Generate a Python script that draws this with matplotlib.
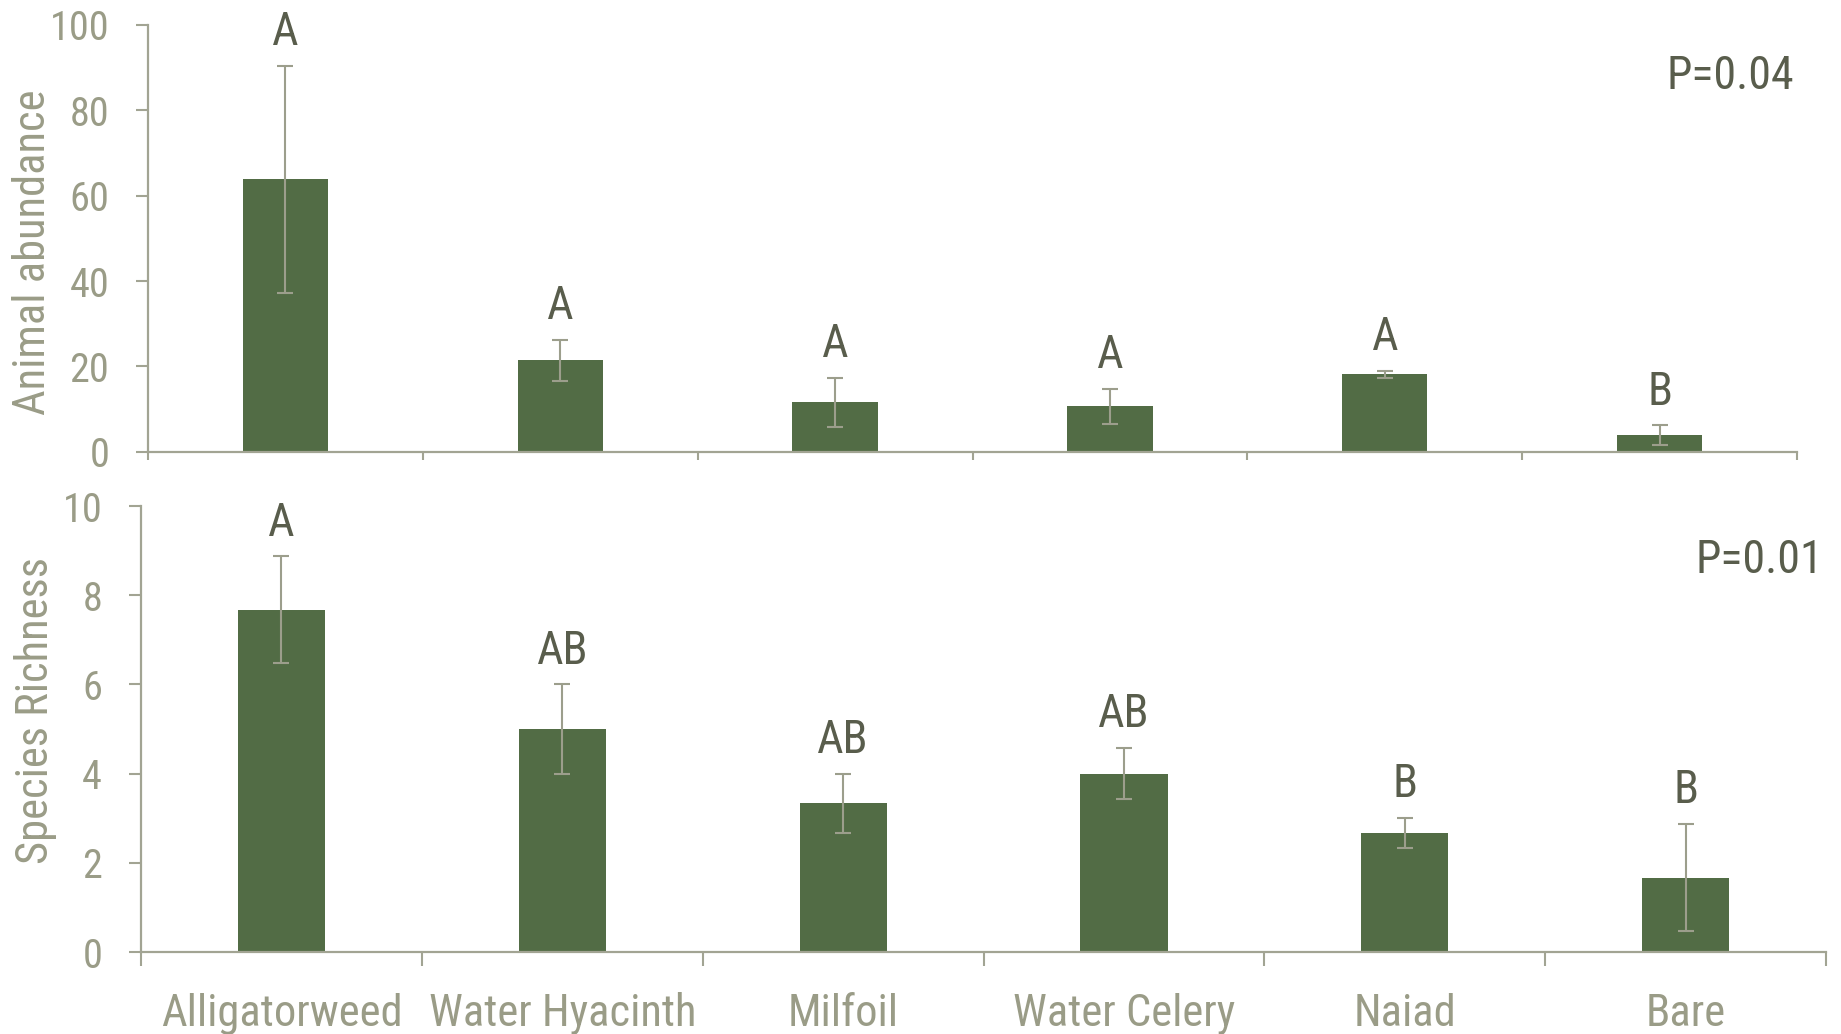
import numpy as np
import matplotlib
matplotlib.use("Agg")
import matplotlib.pyplot as plt
from matplotlib import font_manager
from matplotlib.font_manager import FontProperties

# --- data ---
habitats = ["Alligatorweed", "Water Hyacinth", "Milfoil", "Water Celery", "Naiad", "Bare"]

abundance_mean = [63.8, 21.5, 11.6, 10.7, 18.2, 3.9]
abundance_se = [26.6, 4.8, 5.7, 4.1, 0.8, 2.3]
abundance_groups = ["A", "A", "A", "A", "A", "B"]

richness_mean = [7.67, 5.0, 3.33, 4.0, 2.67, 1.67]
richness_se = [1.2, 1.0, 0.67, 0.58, 0.33, 1.2]
richness_groups = ["A", "AB", "AB", "AB", "B", "B"]

p_abundance = "P=0.04"
p_richness = "P=0.01"

BAR_COLOR = "#526c45"
AXIS_COLOR = "#a2a493"
TICK_TEXT = "#9a9c87"
LETTER_COLOR = "#595d4c"
ERR_COLOR = "#9c9e8c"


def pick_narrow_font():
    """Find a narrow sans face; fall back to a regular one."""
    fonts = font_manager.fontManager.ttflist
    regular = [f for f in fonts if f.style == "normal" and f.weight in (400, "normal", "regular")]
    for want in ("Liberation Sans Narrow", "Arial Narrow", "Roboto Condensed",
                 "Open Sans Condensed"):
        for f in regular:
            if f.name == want:
                return f.fname
    for fam in ("Noto Sans", "Open Sans", "Roboto", "DejaVu Sans"):
        for stretch in ("condensed", "semi-condensed", "extra-condensed"):
            for f in regular:
                if f.name == fam and f.stretch == stretch:
                    return f.fname
    for f in regular:
        if "Condensed" in f.name or "Narrow" in f.name:
            return f.fname
    return font_manager.findfont("Liberation Sans")


FONT_FILE = pick_narrow_font()


def fp(size):
    return FontProperties(fname=FONT_FILE, size=size)


def draw_panel(ax, means, ses, groups, ymax, ystep, ylabel, ptext, show_names,
               xtick_len, label_xy):
    x = np.arange(len(means))
    ax.bar(x, means, width=0.31, color=BAR_COLOR, zorder=2)
    ax.errorbar(x, means, yerr=ses, fmt="none", ecolor=ERR_COLOR,
                elinewidth=1.5, capsize=6, capthick=1.5, zorder=3)

    # significance letters above each error bar
    for xi, m, s, g in zip(x, means, ses, groups):
        ax.annotate(g, (xi, m + s), xytext=(0, 15), textcoords="offset points",
                    ha="center", va="baseline", color=LETTER_COLOR,
                    fontproperties=fp(33))

    ax.text(0.998, 0.88, ptext, transform=ax.transAxes, ha="right", va="center",
            color=LETTER_COLOR, fontproperties=fp(33))

    ax.set_xlim(-0.5, len(means) - 0.5)
    ax.set_ylim(0, ymax)
    ax.set_yticks(np.arange(0, ymax + ystep / 2, ystep))
    for lab in ax.get_yticklabels():
        lab.set_fontproperties(fp(29))

    for side in ("top", "right"):
        ax.spines[side].set_visible(False)
    for side in ("left", "bottom"):
        ax.spines[side].set_color(AXIS_COLOR)
        ax.spines[side].set_linewidth(1.6)

    ax.tick_params(axis="y", colors=AXIS_COLOR, labelcolor=TICK_TEXT,
                   length=9, width=1.5, pad=19)

    # category boundaries carry the x ticks
    ax.set_xticks(np.arange(-0.5, len(means)), minor=True)
    ax.tick_params(axis="x", which="minor", colors=AXIS_COLOR, length=xtick_len, width=1.5)
    ax.set_xticks(x)
    if show_names:
        ax.set_xticklabels(habitats)
        ax.tick_params(axis="x", which="major", length=0, labelcolor=TICK_TEXT, pad=53)
        for lab in ax.get_xticklabels():
            lab.set_fontproperties(fp(32))
            lab.set_va("baseline")
    else:
        ax.tick_params(axis="x", which="major", length=0, labelbottom=False)

    ax.text(label_xy[0], label_xy[1], ylabel, transform=ax.transAxes, rotation=90,
            ha="center", va="center", color=TICK_TEXT, fontproperties=fp(32))


fig = plt.figure(figsize=(18.41, 10.34), dpi=100)
ax_top = fig.add_axes([0.0804, 0.5629, 0.8957, 0.4133])
ax_bot = fig.add_axes([0.0766, 0.0793, 0.9153, 0.4313])

draw_panel(ax_top, abundance_mean, abundance_se, abundance_groups, 100, 20,
           "Animal abundance", p_abundance, False, 6, (-0.0697, 0.467))
draw_panel(ax_bot, richness_mean, richness_se, richness_groups, 10, 2,
           "Species Richness", p_richness, True, 10, (-0.0629, 0.541))

fig.savefig("out.png", dpi=100)
